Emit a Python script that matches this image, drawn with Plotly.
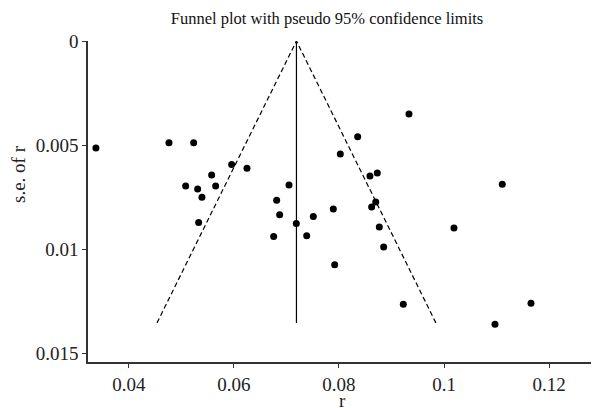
import plotly.graph_objects as go

# Study effect sizes (r) and standard errors
r_values = [0.03371, 0.04762, 0.05232, 0.05956, 0.06248, 0.05575, 0.05080, 0.05308,
            0.05651, 0.05390, 0.05327, 0.07048, 0.06813, 0.06870, 0.07187, 0.06756,
            0.09333, 0.08356, 0.08025, 0.08590, 0.08730, 0.08700, 0.08622, 0.07892,
            0.07511, 0.07385, 0.08768, 0.10190, 0.08851, 0.07918, 0.11110, 0.09225,
            0.10971, 0.11657]
se_values = [0.00514, 0.00489, 0.00489, 0.00594, 0.00612, 0.00644, 0.00697, 0.00711,
             0.00697, 0.00751, 0.00872, 0.00692, 0.00766, 0.00835, 0.00877, 0.00940,
             0.00351, 0.00460, 0.00543, 0.00649, 0.00635, 0.00774, 0.00798, 0.00808,
             0.00844, 0.00936, 0.00894, 0.00899, 0.00990, 0.01075, 0.00688, 0.01266,
             0.01361, 0.01261]

pooled_r = 0.0719
se_limit = 0.01355

x_ticks = [0.04, 0.06, 0.08, 0.1, 0.12]
x_tick_text = ["0.04", "0.06", "0.08", "0.1", "0.12"]
y_ticks = [0, 0.005, 0.01, 0.015]
y_tick_text = ["0", "0.005", "0.01", "0.015"]

font_family = "Liberation Serif, Times New Roman, serif"

# the page body adds an 8px offset; figure is sized to fit the window
W, H = 591, 400
L, T, B, R = 80, 33, 46, 0
PW, PH = W - L - R, H - T - B

fig = go.Figure()

# pseudo 95% confidence limits
fig.add_trace(go.Scatter(
    x=[pooled_r - 1.96 * se_limit, pooled_r, pooled_r + 1.96 * se_limit],
    y=[se_limit, 0, se_limit],
    mode="lines", line=dict(color="black", width=1.2, dash="5px,3px"),
    hoverinfo="skip", showlegend=False))
# pooled estimate line
fig.add_trace(go.Scatter(
    x=[pooled_r, pooled_r], y=[0, se_limit],
    mode="lines", line=dict(color="black", width=1.2),
    hoverinfo="skip", showlegend=False))
# studies
fig.add_trace(go.Scatter(
    x=r_values, y=se_values, mode="markers",
    marker=dict(color="black", size=7), showlegend=False))

fig.update_layout(
    width=W, height=H,
    margin=dict(l=L, r=R, t=T, b=B),
    paper_bgcolor="white", plot_bgcolor="white",
    font=dict(family=font_family, size=19, color="#222"),
    title=dict(text="Funnel plot with pseudo 95% confidence limits",
               xref="container", yref="container",
               x=319 / W, y=1 - 10 / H, xanchor="center", yanchor="middle",
               font=dict(family=font_family, size=16.5, color="#111")),
    xaxis=dict(range=[0.0322, 0.12952], tickvals=x_ticks, ticktext=x_tick_text,
               showgrid=False, zeroline=False, showline=True, linecolor="#333",
               linewidth=1.5, ticks="outside", ticklen=4, tickcolor="#333",
               automargin=False, tickfont=dict(family=font_family, size=19)),
    yaxis=dict(range=[0.01543, 0], tickvals=y_ticks, ticktext=y_tick_text,
               showgrid=False, zeroline=False, showline=True, linecolor="#333",
               linewidth=1.5, ticks="outside", ticklen=4, tickcolor="#333",
               automargin=False, tickfont=dict(family=font_family, size=19)),
    annotations=[
        dict(text="r", xref="paper", yref="paper", x=(334 - L) / PW,
             y=-(392 - (H - B)) / PH,
             xanchor="center", yanchor="middle", showarrow=False,
             font=dict(family=font_family, size=19, color="#222")),
        dict(text="s.e. of r", xref="paper", yref="paper", x=-(L - 10) / PW,
             y=((H - B) - 166) / PH, xanchor="center", yanchor="middle", textangle=-90,
             showarrow=False, font=dict(family=font_family, size=19, color="#222")),
    ],
)

fig.write_html("out.html")
